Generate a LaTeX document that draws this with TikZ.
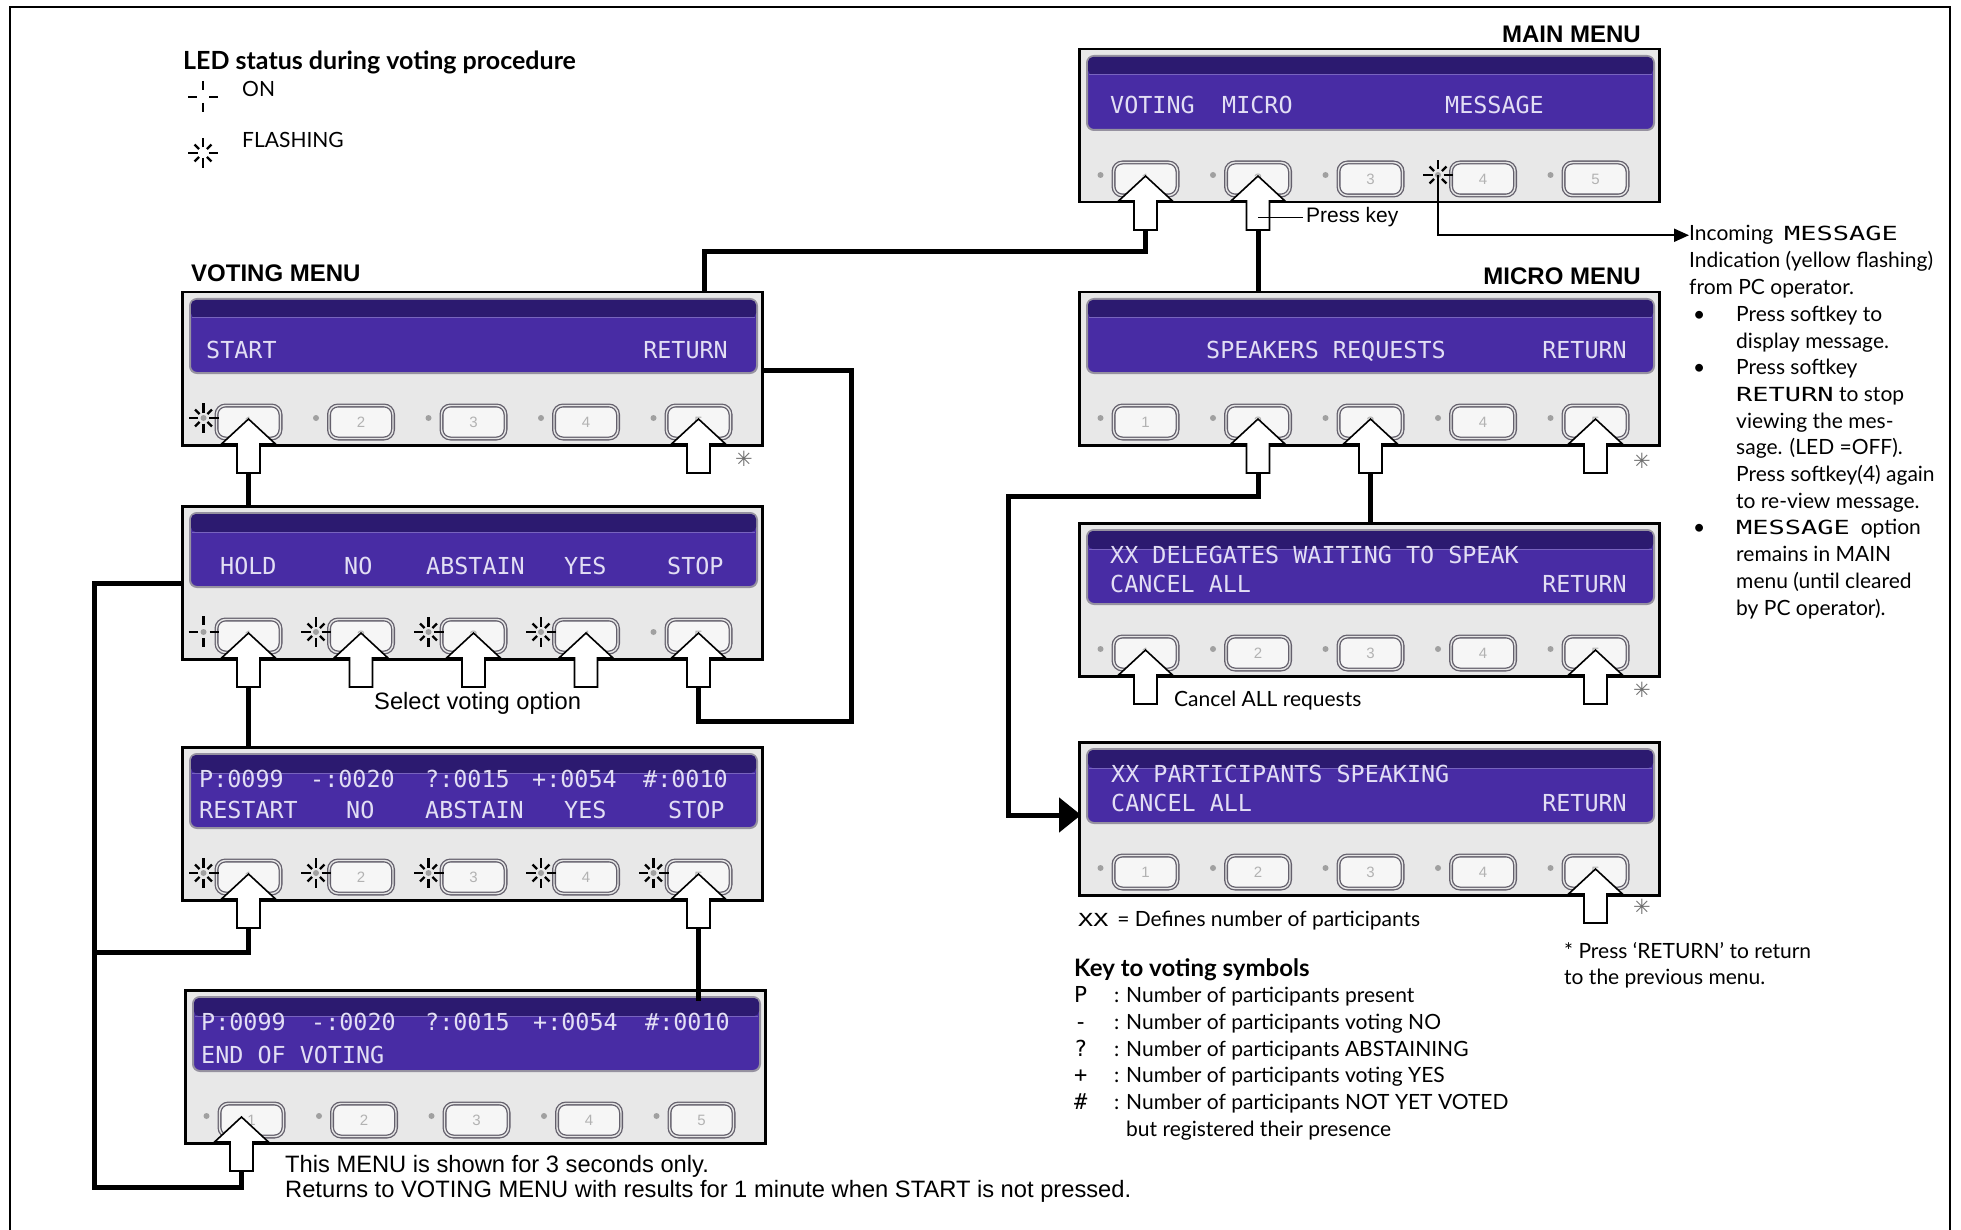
\documentclass[tikz,border=0pt]{standalone}
\usepackage{fontspec}
\setmainfont{Lato}
\newfontfamily\helv{Liberation Sans}
\newfontfamily\lcdfont{DejaVu Sans Mono}
\newfontfamily\djv{DejaVu Sans}
\usetikzlibrary{arrows.meta,calc}
\definecolor{lcdbg}{RGB}{72,44,164}
\definecolor{lcdtop}{RGB}{44,26,112}
\definecolor{lcdline}{RGB}{120,100,190}
\definecolor{lcdtxt}{RGB}{226,222,244}
\definecolor{screenedge}{RGB}{150,146,160}
\definecolor{panelbg}{RGB}{232,232,232}
\definecolor{btnedge}{RGB}{100,96,108}
\definecolor{btnfill}{RGB}{246,246,246}
\definecolor{ledc}{RGB}{160,160,160}
\definecolor{stargray}{RGB}{110,110,110}
\newcommand\lcdk[2][26]{{\lcdfont\fontsize{#1}{#1}\selectfont\scalebox{1}[0.72]{#2}}}
\newcommand\lcdn[1]{{\lcdfont\fontsize{22}{22}\selectfont #1}}
\tikzset{
 panelbox/.style={draw=black,line width=2.5pt,fill=panelbg,minimum width=580pt,minimum height=153pt,inner sep=0pt},
 screenbox/.style={draw=screenedge,line width=2pt,fill=lcdbg,rounded corners=7pt,minimum width=567pt,minimum height=74pt,inner sep=0pt},
 btn/.style={draw=btnedge,line width=1.3pt,double=white!80!gray,double distance=1.4pt,fill=btnfill,rounded corners=9pt,minimum width=64pt,minimum height=33pt,inner sep=0pt,text=gray!60,font=\helv\fontsize{15}{15}\selectfont},
 keyarr/.style={fill=white,draw=black,line width=1.6pt,line join=miter},
 conn/.style={line width=5pt,line join=miter},
 thinconn/.style={line width=2pt},
 ledsym/.style={line width=2.2pt},
 lcd/.style={text=lcdtxt,font=\lcdfont\fontsize{23.4}{23.4}\selectfont,inner sep=0pt},
 menutitle/.style={font=\helv\bfseries\fontsize{24}{24}\selectfont,inner sep=0pt},
 gill/.style={font=\fontsize{21}{26.7}\selectfont,inner sep=0pt},
 helvt/.style={font=\helv\fontsize{23.7}{25}\selectfont,inner sep=0pt},
 astx/.style={text=stargray,font=\djv\fontsize{21}{21}\selectfont,inner sep=0pt},
}
\newcommand\drawpanel[3]{%
 \node[panelbox,anchor=north west] (#1) at (#2,#3) {};
 \node[screenbox,anchor=north west] (#1-scr) at ($(#1.north west)+(8,7)$) {};
 \fill[lcdtop,rounded corners=5pt] ($(#1-scr.north west)+(2,2)$) rectangle ($(#1-scr.north east)+(-2,20)$);
 \draw[lcdline,line width=1pt] ($(#1-scr.north west)+(3,20)$) -- ($(#1-scr.north east)+(-3,20)$);
 \foreach \i in {1,...,5}{%
  \node[btn] (#1-b\i) at ($(#1.north west)+({67.5+112.5*(\i-1)},131)$) {\i};
  \coordinate (#1-l\i) at ($(#1-b\i.center)+(-45,-4)$);
  \fill[ledc] (#1-l\i) circle (3);
 }}
\newcommand\keyarrow[2][0]{%
 \draw[keyarr] ($(#2.center)+(#1,-3)$) -- ++(27,25) -- ++(-15.5,0) -- ++(0,29) -- ++(-23,0) -- ++(0,-29) -- ++(-15.5,0) -- cycle;
 \coordinate (#2-a) at ($(#2.center)+(#1,51)$);}
\newcommand\ledon[1]{\draw[ledsym] ($(#1)+(-15,0)$) -- ($(#1)+(-6,0)$) ($(#1)+(6,0)$) -- ($(#1)+(15,0)$) ($(#1)+(0,-16)$) -- ($(#1)+(0,-7)$) ($(#1)+(0,6)$) -- ($(#1)+(0,15)$);}
\newcommand\ledflash[1]{\foreach \a/\r in {0/15,45/12,90/15,135/12,180/15,225/12,270/15,315/12}{\draw[ledsym] ($(#1)+(\a:5.5)$) -- ($(#1)+(\a:\r)$);}}
\begin{document}
\begin{tikzpicture}[x=1pt,y=-1pt]
\fill[white] (0,0) rectangle (1961,1230);
\useasboundingbox (0,0) rectangle (1961,1230);
\draw[line width=2.2pt] (10,1235) -- (10,7) -- (1950,7) -- (1950,1235);

% panels
\drawpanel{main}{1078}{48}
\drawpanel{voting}{181}{291}
\drawpanel{hold}{181}{505}
\drawpanel{res}{181}{746}
\drawpanel{endv}{184}{989}
\drawpanel{micro}{1078}{291}
\drawpanel{deleg}{1078}{522}
\drawpanel{part}{1078}{741}

% LCD texts
\node[lcd,anchor=base west] (main-t1) at (1110,114) {VOTING};
\node[lcd,anchor=base west] (main-t2) at (1222,114) {MICRO};
\node[lcd,anchor=base west] (main-t3) at (1445,114) {MESSAGE};
\node[lcd,anchor=base west] (voting-t1) at (206,359) {START};
\node[lcd,anchor=base east] (voting-t2) at (728,359) {RETURN};
\node[lcd,anchor=base west] (hold-t1) at (220,574) {HOLD};
\node[lcd,anchor=base west] (hold-t2) at (344,574) {NO};
\node[lcd,anchor=base west] (hold-t3) at (426,574) {ABSTAIN};
\node[lcd,anchor=base west] (hold-t4) at (564,574) {YES};
\node[lcd,anchor=base west] (hold-t5) at (667,574) {STOP};
\node[lcd,anchor=base west] (res-p) at (199,787) {P:0099};
\node[lcd,anchor=base west] (res-m) at (310,787) {-:0020};
\node[lcd,anchor=base west] (res-q) at (425,787) {?:0015};
\node[lcd,anchor=base west] (res-y) at (532,787) {+:0054};
\node[lcd,anchor=base west] (res-h) at (643,787) {\#:0010};
\node[lcd,anchor=base west] (res-t1) at (199,818) {RESTART};
\node[lcd,anchor=base west] (res-t2) at (346,818) {NO};
\node[lcd,anchor=base west] (res-t3) at (425,818) {ABSTAIN};
\node[lcd,anchor=base west] (res-t4) at (564,818) {YES};
\node[lcd,anchor=base west] (res-t5) at (668,818) {STOP};
\node[lcd,anchor=base west] (endv-p) at (201,1030) {P:0099};
\node[lcd,anchor=base west] (endv-m) at (311,1030) {-:0020};
\node[lcd,anchor=base west] (endv-q) at (425,1030) {?:0015};
\node[lcd,anchor=base west] (endv-y) at (533,1030) {+:0054};
\node[lcd,anchor=base west] (endv-h) at (645,1030) {\#:0010};
\node[lcd,anchor=base west] (endv-t) at (201,1063) {END OF VOTING};
\node[lcd,anchor=base west] (micro-t1) at (1206,359) {SPEAKERS REQUESTS};
\node[lcd,anchor=base east] (micro-t2) at (1627,359) {RETURN};
\node[lcd,anchor=base west] (deleg-t1) at (1110,563) {XX DELEGATES WAITING TO SPEAK};
\node[lcd,anchor=base west] (deleg-t2) at (1110,592) {CANCEL ALL};
\node[lcd,anchor=base east] (deleg-t3) at (1627,592) {RETURN};
\node[lcd,anchor=base west] (part-t1) at (1111,782) {XX PARTICIPANTS SPEAKING};
\node[lcd,anchor=base west] (part-t2) at (1111,811) {CANCEL ALL};
\node[lcd,anchor=base east] (part-t3) at (1627,811) {RETURN};

% LED symbols
\ledflash{voting-l1}
\ledon{hold-l1}
\ledflash{hold-l2}
\ledflash{hold-l3}
\ledflash{hold-l4}
\foreach \i in {1,...,5}{\ledflash{res-l\i}}
\ledflash{main-l4}
\coordinate (leg-on) at (203,97);
\coordinate (leg-fl) at (203,153);
\ledon{leg-on}
\ledflash{leg-fl}

% key arrows
\keyarrow{main-b1}
\keyarrow{main-b2}
\keyarrow{voting-b1}
\keyarrow{voting-b5}
\foreach \i in {1,...,5}{\keyarrow{hold-b\i}}
\keyarrow{res-b1}
\keyarrow{res-b5}
\keyarrow[-10]{endv-b1}
\keyarrow{micro-b2}
\keyarrow{micro-b3}
\keyarrow{micro-b5}
\keyarrow{deleg-b1}
\keyarrow{deleg-b5}
\keyarrow{part-b5}

% connectors
\coordinate (voting-in) at ($(voting.north west)+(523,0)$);
\draw[conn] (main-b1-a) -- ++(0,22) -| (voting-in);
\draw[conn] (main-b2-a) -- (main-b2-a |- micro.north);
\draw[conn] (voting-b1-a) -- (voting-b1-a |- hold.north);
\draw[conn] (hold-b1-a) -- (hold-b1-a |- res.north);
\coordinate (voting-out) at ($(voting.north east)+(0,79)$);
\draw[conn] (voting-out) -- ++(88,0) -- ++(0,351) -| (hold-b5-a);
\coordinate (hold-left) at ($(hold.north west)+(0,78)$);
\draw[conn] (hold-left) -- ++(-87,0) -- ++(0,604) -| (endv-b1-a);
\draw[conn] (res-b1-a) -- ++(0,24) -- ++(-154.5,0);
\draw[conn] (res-b5-a) -- ($(res-b5-a |- endv.north)+(0,12)$);
\draw[conn] (micro-b3-a) -- (micro-b3-a |- deleg.north);
\coordinate (part-in) at ($(part.north west)+(3,74)$);
\draw[conn,-{Triangle[length=22pt,width=34pt]}] (micro-b2-a) -- ++(0,23) -- ++(-250,0) |- (part-in);

% texts
\node[font=\bfseries\fontsize{25}{25}\selectfont,inner sep=0pt,anchor=base west] (ledtitle) at (183,70) {LED status during voting procedure};
\node[gill,anchor=base west] (ontext) at (242,97) {ON};
\node[gill,anchor=base west] (fltext) at (242,148) {FLASHING};
\node[menutitle,anchor=base east] (maint) at (1641,43) {MAIN MENU};
\node[menutitle,anchor=base west] (votingt) at (191,282) {VOTING MENU};
\node[menutitle,anchor=base east] (microt) at (1641,285) {MICRO MENU};

\node[helvt,font=\helv\fontsize{21}{22}\selectfont,anchor=base west] (presskey) at (1306,223) {Press key};
\draw[line width=1.5pt] (main-b2-a |- presskey.west) -- ($(presskey.west)+(-3,0)$);

\node[gill,anchor=base west] (incoming) at (1689,241) {Incoming\ \ \lcdk[27]{MESSAGE}};
\draw[thinconn,-{Triangle[length=15pt,width=13pt]}] (main-l4) |- (incoming.west);
\node[gill,anchor=base west] (msgbody) at (1689,268) {\begin{tabular}[t]{@{}p{47pt}@{}l@{}}
\multicolumn{2}{@{}l@{}}{Indication (yellow flashing)}\\
\multicolumn{2}{@{}l@{}}{from PC operator.}\\
\hspace*{4pt}\textbullet & Press softkey to\\
 & display message.\\
\hspace*{4pt}\textbullet & Press softkey\\
 & \lcdk[27]{RETURN} to stop\\
 & viewing the mes-\\
 & sage. (LED =OFF).\\
 & Press softkey(4) again\\
 & to re-view message.\\
\hspace*{4pt}\textbullet & \lcdk[27]{MESSAGE}\ \ option\\
 & remains in MAIN\\
 & menu (until cleared\\
 & by PC operator).
\end{tabular}};

\node[helvt,anchor=base west] (selvote) at (374,709) {Select voting option};
\node[helvt,anchor=base west] (thismenu) at (285,1172) {\begin{tabular}[t]{@{}l@{}}This MENU is shown for 3 seconds only.\\Returns to VOTING MENU with results for 1 minute when START is not pressed.\end{tabular}};

\node[gill,anchor=base west] (cancelall) at (1174,706) {Cancel ALL requests};
\node[gill,anchor=base west] (xxdef) at (1078,926) {\lcdk[25]{XX}\hspace{9pt}= Defines number of participants};

\node[gill,anchor=base west] (keyleg) at (1074,976) {\begin{tabular}[t]{@{}p{40pt}@{}p{12pt}@{}l@{}}
\multicolumn{3}{@{}l@{}}{\fontsize{24}{26.7}\selectfont\bfseries Key to voting symbols}\\
\lcdn{P} & : & Number of participants present\\
\lcdn{-} & : & Number of participants voting NO\\
\lcdn{?} & : & Number of participants ABSTAINING\\
\lcdn{+} & : & Number of participants voting YES\\
\lcdn{\#} & : & Number of participants NOT YET VOTED\\
 & & but registered their presence
\end{tabular}};

\node[gill,anchor=base west] (fnote) at (1564,958) {\begin{tabular}[t]{@{}l@{}}* Press ‘RETURN’ to return\\to the previous menu.\end{tabular}};

\node[astx] (st1) at (744,459) {✳};
\node[astx] (st2) at (1642,461) {✳};
\node[astx] (st3) at (1642,690) {✳};
\node[astx] (st4) at (1642,907) {✳};
\end{tikzpicture}
\end{document}
